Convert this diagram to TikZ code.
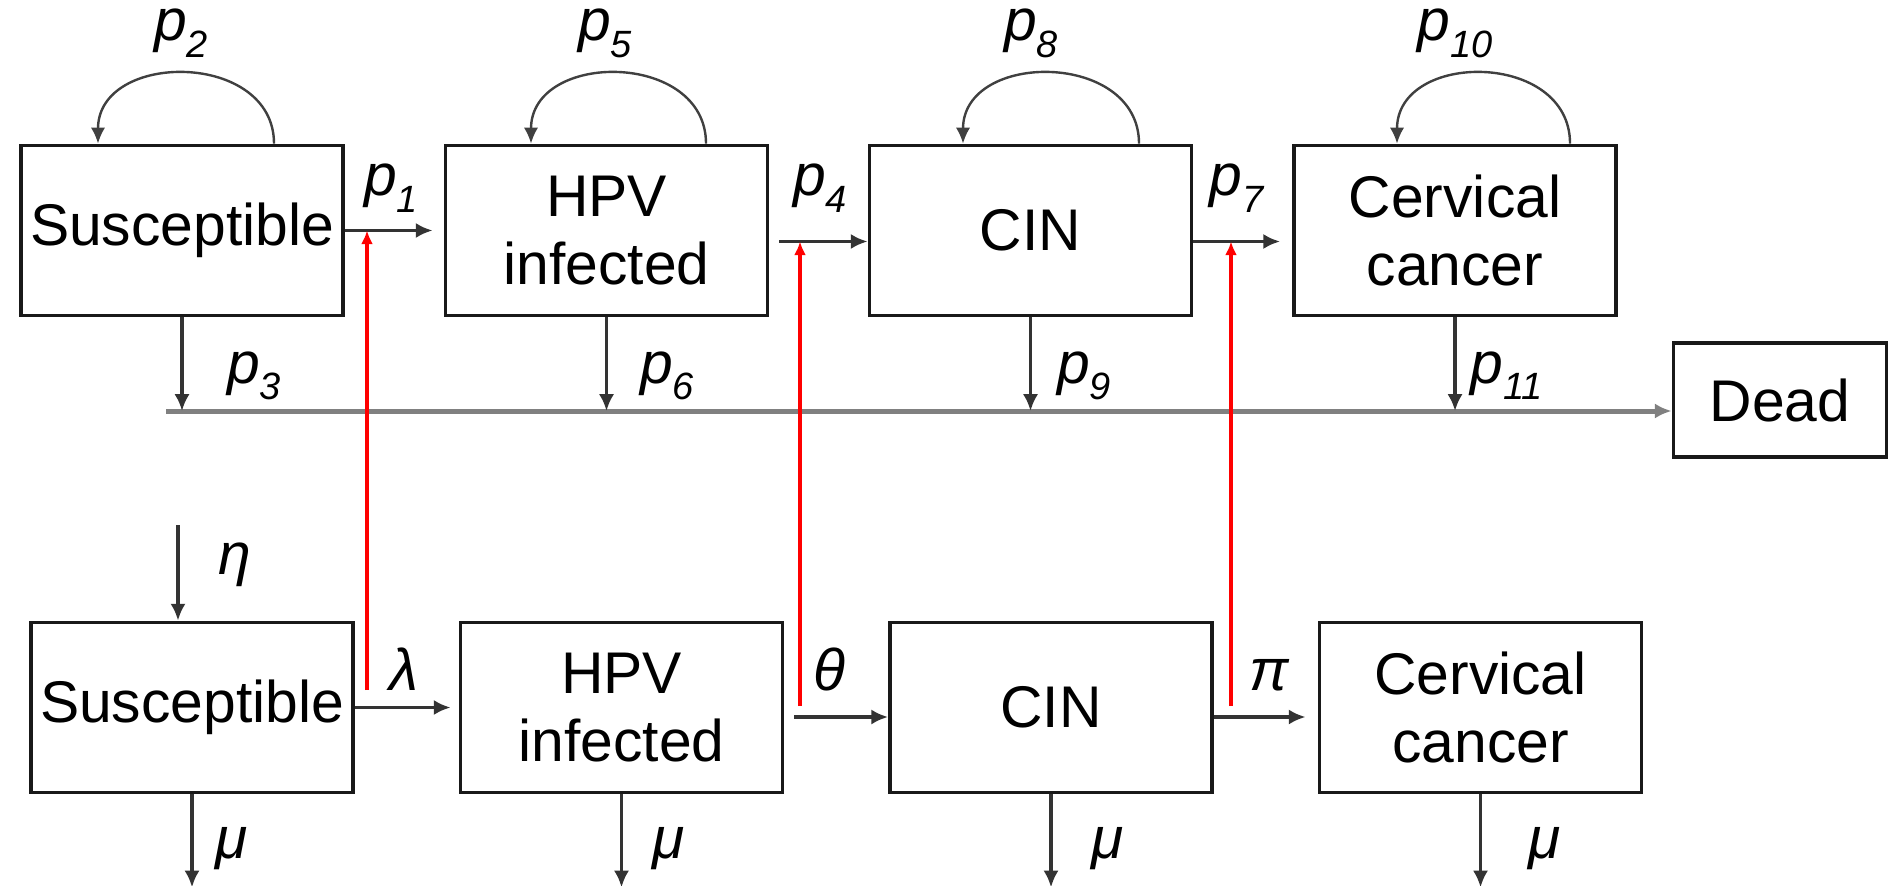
\documentclass[tikz,border=0pt]{standalone}
\usepackage{fontspec}
\setmainfont{Liberation Sans}
\usetikzlibrary{arrows.meta,calc}
\newcommand{\prate}[1]{\textit{p}\raisebox{-4.2pt}{\fontsize{9.5}{10}\selectfont\textit{#1}}}
\begin{document}
\begin{tikzpicture}[x=0.25pt,y=-0.25pt,
      font=\fontsize{14.7}{17}\selectfont,
      compbox/.style={draw=black!90,line width=0.95pt,minimum width=80.5pt,
        minimum height=42.5pt,align=center,inner sep=0pt},
      flow/.style={-{Latex[length=4.2pt,width=3.8pt]},draw=black!80,line width=0.85pt},
      selfloop/.style={-{Latex[length=4pt,width=3.6pt]},draw=black!75,line width=0.6pt},
      redlink/.style={-{Latex[length=3.4pt,width=3pt]},draw=red,line width=0.95pt},
      rate/.style={anchor=base,inner sep=0pt}]
    \useasboundingbox (0,0) rectangle (1890,886);
    % Upper model
    \node[compbox] (S1) at (182,230.5) {Susceptible};
    \node[compbox] (H1) at (606.5,230.5) {HPV\\infected};
    \node[compbox] (C1) at (1030.5,230.5) {CIN};
    \node[compbox] (X1) at (1455,230.5) {Cervical\\cancer};
    \node[compbox,minimum width=53.25pt,minimum height=28.5pt] (D) at (1780,400) {Dead};
    % Lower model
    \node[compbox] (S2) at (192,707.5) {Susceptible};
    \node[compbox] (H2) at (621.5,707.5) {HPV\\infected};
    \node[compbox] (C2) at (1051,707.5) {CIN};
    \node[compbox] (X2) at (1480.5,707.5) {Cervical\\cancer};
    % Staying in the same state
    \foreach \b/\l/\r in {S1/-84/92, H1/-75.5/99.5, C1/-67.5/108.5, X1/-58/115}
      \draw[selfloop] ($(\b.north)+(\r,0)$) .. controls +(0,-93) and +(0,-93)
        .. ($(\b.north)+(\l,0)$);
    % Transitions, upper model
    \draw[flow] (S1.east) -- ($(H1.west)+(-11,0)$);
    \draw[flow] ($(H1.east)+(10,11)$) -- ($(C1.west)+(0,11)$);
    \draw[flow] ($(C1.east)+(0,11)$) -- ($(X1.west)+(-12,11)$);
    \coordinate (bus) at (166,411);
    \draw[flow,draw=black!50,line width=1.25pt] (bus) -- (bus -| D.west);
    \foreach \b in {S1,H1,C1,X1}
      \draw[flow] (\b.south) -- (\b.south |- bus);
    % Transitions, lower model
    \coordinate (eta) at (178,525);
    \draw[flow] (eta) -- (eta |- S2.north);
    \draw[flow] (S2.east) -- ($(H2.west)+(-8,0)$);
    \draw[flow] ($(H2.east)+(10,9.5)$) -- ($(C2.west)+(0,9.5)$);
    \draw[flow] ($(C2.east)+(0,9.5)$) -- ($(X2.west)+(-12,9.5)$);
    \foreach \b in {S2,H2,C2,X2} {
      \coordinate (\b out) at ($(\b.south)+(0,93)$);
      \draw[flow] (\b.south) -- (\b out);
    }
    % Links between the two models
    \coordinate (r1) at (367,690);
    \coordinate (r2) at (800,706);
    \coordinate (r3) at (1231,706);
    \draw[redlink] (r1) -- (r1 |- S1.east);
    \draw[redlink] (r2) -- ($(r2 |- H1.east)+(0,11)$);
    \draw[redlink] (r3) -- ($(r3 |- C1.east)+(0,11)$);
    % Rates
    \foreach \x/\y/\l [count=\i] in {181/41/{\prate{2}}, 605/41/{\prate{5}},
        1031/41/{\prate{8}}, 1455/41/{\prate{10}},
        391/196/{\prate{1}}, 820/196/{\prate{4}}, 1237/196/{\prate{7}},
        254/383/{\prate{3}}, 667/383/{\prate{6}}, 1084/383/{\prate{9}},
        1507/383/{\prate{11}},
        235/574/{\textit{η}}, 404/690/{\textit{λ}}, 829/690/{\textit{θ}},
        1270/690/{\textit{π}},
        232/858/{\textit{μ}}, 669/858/{\textit{μ}}, 1108/858/{\textit{μ}},
        1545/858/{\textit{μ}}}
      \node[rate] (rate\i) at (\x,\y) {\l};
  \end{tikzpicture}
\end{document}
